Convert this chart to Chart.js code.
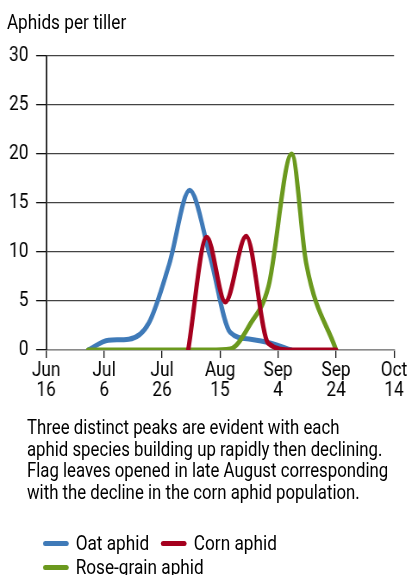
<!DOCTYPE html>
<html>
<head>
<meta charset="utf-8">
<script src="https://cdn.jsdelivr.net/npm/chart.js@4.4.1/dist/chart.umd.min.js"></script>
<style>
  html, body { margin: 0; padding: 0; background: #fff; }
  body { width: 409px; height: 575px; position: relative; overflow: hidden; }
  /* whole page laid out 1/0.86 wider, then condensed horizontally to mimic a condensed typeface */
  #page { position: absolute; left: 0; top: 0; width: 475.6px; height: 575px;
          transform: scaleX(0.86); transform-origin: 0 0;
          font-family: Roboto, 'Liberation Sans', sans-serif; color: #000; }
  #title { position: absolute; left: 8px; top: 9px; font-size: 20px; line-height: 26px; }
  #wrap { position: absolute; left: 0; top: 0; width: 475.6px; height: 400px; }
  #caption { position: absolute; left: 31.4px; top: 417px; width: 444px; font-size: 19.5px; line-height: 21.7px; white-space: nowrap; }
  #legend { position: absolute; left: 50px; top: 531px; width: 360px; display: flex; flex-wrap: wrap; font-size: 20px; }
  .item { display: flex; align-items: center; height: 24px; margin-right: 14px; }
  .swatch { width: 30px; height: 5px; border-radius: 3px; margin-right: 8px; }
</style>
</head>
<body>
<div id="page">
<div id="title">Aphids per tiller</div>
<div id="wrap"><canvas id="c"></canvas></div>
<div id="caption">Three distinct peaks are evident with each<br>aphid species building up rapidly then declining.<br>Flag leaves opened in late August corresponding<br>with the decline in the corn aphid population.</div>
<div id="legend"></div>
</div>
<script>
// x values are days after June 16
const tickLabels = [["Jun","16"],["Jul","6"],["Jul","26"],["Aug","15"],["Sep","4"],["Sep","24"],["Oct","14"]];

const oatDays   = [14.5, 21.5, 28.5, 35.5, 42.5, 49.5, 56.5, 63.5, 70.5, 77.5, 84.5];
const oatValues = [0,    1.0,  1.1,  2.8,  8.8,  16.3, 9.6,  1.8,  1.1,  0.7,  0];

const cornDays   = [49, 55.4, 61.8, 69, 76.6, 84.7, 100];
const cornValues = [0,  11.5, 4.9,  11.6, 0.7, 0,    0];

const roseDays   = [14.5, 21.5, 28.5, 35.5, 42.5, 49.5, 56.5, 63.5, 70.5, 76.7, 84.7, 89.7, 100];
const roseValues = [0,    0,    0,    0,    0,    0,    0,    0.1,  2.7,  6.5,  20,   8.85, 0];

const seriesNames = ["Oat aphid", "Corn aphid", "Rose-grain aphid"];
const seriesColors = ["#3f7ab8", "#a5001e", "#6b991e"];

function pts(d, v) { return d.map((x, i) => ({ x: x, y: v[i] })); }

const datasets = [
  { label: seriesNames[0], data: pts(oatDays, oatValues), borderColor: seriesColors[0], order: 2 },
  { label: seriesNames[1], data: pts(cornDays, cornValues), borderColor: seriesColors[1], order: 0 },
  { label: seriesNames[2], data: pts(roseDays, roseValues), borderColor: seriesColors[2], order: 1 }
].map(d => Object.assign(d, {
  borderWidth: 5, pointRadius: 0, pointHoverRadius: 0, fill: false,
  cubicInterpolationMode: 'monotone', borderCapStyle: 'round', borderJoinStyle: 'round'
}));

const FONT = "Roboto, 'Liberation Sans', sans-serif";

new Chart(document.getElementById('c'), {
  type: 'line',
  data: { datasets: datasets },
  options: {
    responsive: true, maintainAspectRatio: false, animation: false,
    layout: { padding: { top: 56, right: 17.5, left: 0, bottom: 0 } },
    plugins: { legend: { display: false }, tooltip: { enabled: false }, title: { display: false } },
    scales: {
      x: {
        type: 'linear', min: 0, max: 120,
        afterFit: s => { s.height = 50; },
        ticks: {
          stepSize: 20, autoSkip: false, maxRotation: 0, padding: 3,
          color: '#000', font: { family: FONT, size: 20, lineHeight: 1.0 },
          callback: (v, i) => tickLabels[i]
        },
        grid: { drawOnChartArea: false, drawTicks: true, tickLength: 8, color: '#111', lineWidth: 1.3 },
        border: { display: true, color: '#8a8a8a', width: 1.5 }
      },
      y: {
        min: 0, max: 30,
        afterFit: s => { s.width = 53.5; },
        ticks: { stepSize: 5, padding: 9, color: '#000', font: { family: FONT, size: 20 } },
        grid: {
          color: c => (c.tick && c.tick.value === 0) ? '#8a8a8a' : '#444',
          lineWidth: 1.3, tickLength: 11.6, tickColor: '#111'
        },
        border: { display: true, color: '#111', width: 1.7 }
      }
    }
  }
});

const legend = document.getElementById('legend');
seriesNames.forEach((n, i) => {
  const it = document.createElement('div'); it.className = 'item';
  const sw = document.createElement('div'); sw.className = 'swatch'; sw.style.background = seriesColors[i];
  const tx = document.createElement('span'); tx.textContent = n;
  it.appendChild(sw); it.appendChild(tx); legend.appendChild(it);
});
</script>
</body>
</html>
